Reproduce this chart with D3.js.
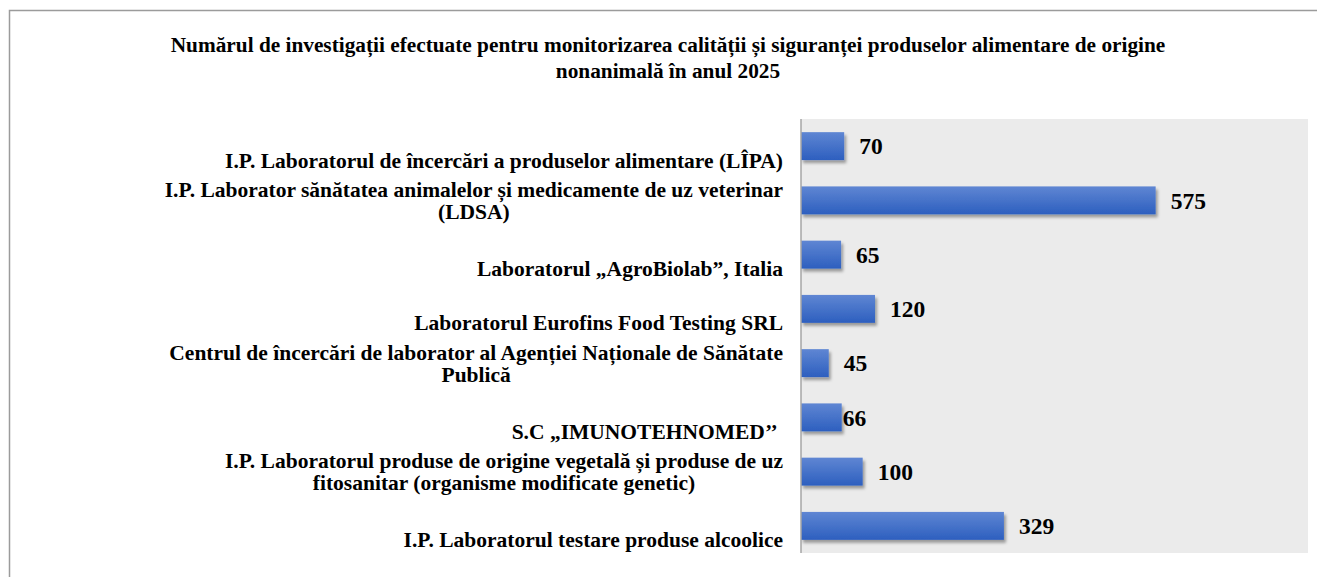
<!DOCTYPE html>
<html lang="ro">
  <head>
    <meta charset="UTF-8" />
    <title>Investigații 2025</title>
    <script src="https://d3js.org/d3.v7.min.js"></script>
    <style>
      body { margin: 0; background: #fff; }
      svg { display: block; font-family: "Liberation Serif", "Times New Roman", serif; }
    </style>
  </head>
  <body>
    <svg></svg>
    <script>
      // data, top to bottom
      const categories = [
        ["", "I.P. Laboratorul de încercări a produselor alimentare (LÎPA)"],
        ["I.P. Laborator sănătatea animalelor și medicamente de uz veterinar", "(LDSA)"],
        ["", "Laboratorul „AgroBiolab”, Italia"],
        ["", "Laboratorul Eurofins Food Testing SRL"],
        ["Centrul de încercări de laborator al Agenției Naționale de Sănătate", "Publică"],
        ["", "S.C „IMUNOTEHNOMED’’\u00a0"],
        ["I.P. Laboratorul produse de origine vegetală și produse de uz", "fitosanitar (organisme modificate genetic)"],
        ["", "I.P. Laboratorul testare produse alcoolice"],
      ];
      const values = [70, 575, 65, 120, 45, 66, 100, 329];
      const titleLines = [
        "Numărul de investigații efectuate pentru monitorizarea calității și siguranței produselor alimentare de origine",
        "nonanimală în anul 2025",
      ];

      const width = 1317,
        height = 577;
      const svg = d3.select("svg").attr("width", width).attr("height", height);

      const defs = svg.append("defs");
      const grad = defs
        .append("linearGradient")
        .attr("id", "barGrad")
        .attr("x1", 0).attr("y1", 0).attr("x2", 0).attr("y2", 1);
      grad.append("stop").attr("offset", "0%").attr("stop-color", "#5f86d3");
      grad.append("stop").attr("offset", "100%").attr("stop-color", "#2d5fbf");

      const shadow = defs
        .append("filter")
        .attr("id", "shadow")
        .attr("x", "-10%").attr("y", "-20%")
        .attr("width", "130%").attr("height", "160%");
      shadow
        .append("feDropShadow")
        .attr("dx", 2).attr("dy", 3)
        .attr("stdDeviation", 1.8)
        .attr("flood-color", "#000")
        .attr("flood-opacity", 0.35);

      // outer frame
      svg
        .append("rect")
        .attr("x", 9.5).attr("y", 10.5)
        .attr("width", width + 20).attr("height", height + 20)
        .attr("fill", "none")
        .attr("stroke", "#9b9b9b")
        .attr("stroke-width", 1.5);

      // title
      svg
        .append("text")
        .attr("text-anchor", "middle")
        .style("font-weight", "bold")
        .style("font-size", "21.3px")
        .selectAll("tspan")
        .data(titleLines)
        .join("tspan")
        .attr("x", 668)
        .attr("y", (d, i) => 52 + i * 26)
        .text((d) => d);

      const plot = { left: 801, right: 1308, top: 119, bottom: 553 };

      const x = d3.scaleLinear().domain([0, 822]).range([plot.left, plot.right]);
      const y = d3
        .scaleBand()
        .domain(d3.range(categories.length))
        .range([plot.top, plot.bottom])
        .paddingInner(0.485)
        .paddingOuter(0.2425);

      svg
        .append("rect")
        .attr("x", plot.left).attr("y", plot.top)
        .attr("width", plot.right - plot.left)
        .attr("height", plot.bottom - plot.top)
        .attr("fill", "#ebebeb");

      svg
        .append("g")
        .selectAll("rect")
        .data(values)
        .join("rect")
        .attr("x", x(0))
        .attr("y", (d, i) => y(i))
        .attr("width", (d) => x(d) - x(0))
        .attr("height", y.bandwidth())
        .attr("fill", "url(#barGrad)")
        .attr("filter", "url(#shadow)");

      // axis line
      svg
        .append("line")
        .attr("x1", plot.left).attr("x2", plot.left)
        .attr("y1", plot.top).attr("y2", plot.bottom)
        .attr("stroke", "#a6a6a6")
        .attr("stroke-width", 1.5);

      // value labels (the 66 one sits against its bar)
      svg
        .append("g")
        .selectAll("text")
        .data(values)
        .join("text")
        .attr("x", (d, i) => x(d) + (i === 5 ? 1 : 15))
        .attr("y", (d, i) => y(i) + y.bandwidth() / 2)
        .attr("dy", "0.35em")
        .style("font-weight", "bold")
        .style("font-size", "23.5px")
        .text((d) => d);

      // category labels: centred block, right edge at 783
      const labelRight = 783,
        lh = 22;
      const lab = svg
        .append("g")
        .style("font-weight", "bold")
        .style("font-size", "21.5px")
        .selectAll("text")
        .data(categories)
        .join("text")
        .attr("text-anchor", "middle");
      lab.each(function (lines, i) {
        const t = d3.select(this);
        const cy = y(i) + y.bandwidth() / 2 + (lines[0] === "" ? 3 : 0);
        t.selectAll("tspan")
          .data(lines)
          .join("tspan")
          .attr("y", (d, j) => cy + (j - (lines.length - 1) / 2) * lh)
          .attr("dy", "0.35em")
          .text((d) => d);
        let w = 0;
        t.selectAll("tspan").each(function () {
          w = Math.max(w, this.getComputedTextLength());
        });
        t.selectAll("tspan").attr("x", labelRight - w / 2);
      });
    </script>
  </body>
</html>
